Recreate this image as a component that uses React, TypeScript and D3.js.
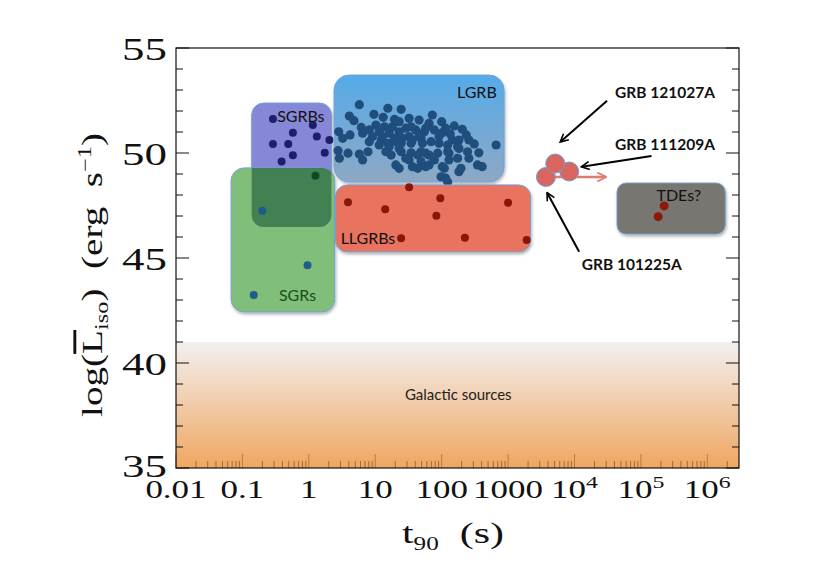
import React from 'react';
import * as d3 from 'd3';

// ---- data: [log10 t90 (s), log L_iso (erg/s)] ----
const lgrbPoints: [number, number][] = [
  [0.76,52.30],[0.61,51.76],[0.68,51.54],[0.98,51.84],[1.19,52.13],[1.39,52.08],[1.12,51.70],[1.29,51.60],
  [1.36,51.49],[1.51,51.65],[1.66,51.57],[0.45,51.01],[0.62,50.86],[0.79,51.22],[0.81,50.94],[0.91,51.10],
  [1.01,51.33],[1.06,51.01],[1.14,51.25],[1.21,50.94],[1.26,51.25],[1.36,51.01],[1.46,51.18],[1.51,50.78],
  [1.61,51.10],[1.69,50.70],[0.91,50.54],[1.09,50.62],[1.19,50.46],[1.31,50.54],[1.39,50.46],[1.54,50.46],
  [0.44,50.11],[0.46,49.75],[0.59,49.99],[0.76,49.95],[0.81,49.67],[0.89,50.06],[1.16,50.06],[1.24,49.90],
  [1.39,50.06],[1.54,50.01],[1.46,49.75],[1.64,49.90],[1.31,49.43],[1.36,49.27],[1.64,49.27],
  [1.86,51.81],[2.00,51.49],[1.81,51.41],[1.74,51.01],[1.89,51.10],[2.01,50.97],[2.16,50.62],[2.31,51.13],
  [2.37,50.86],[2.41,50.62],[2.49,50.43],[2.82,50.38],[1.71,50.46],[1.84,50.54],[1.96,50.46],[2.09,50.38],
  [2.24,50.30],[1.76,49.99],[1.89,49.67],[2.11,49.99],[2.24,49.75],[2.41,49.75],[2.56,50.01],[2.54,49.43],
  [2.61,49.35],[1.69,49.59],[1.76,49.35],[2.04,49.27],[2.29,49.27],[2.26,49.11],[1.99,48.87],[2.06,48.80],
  [1.54,51.25],[1.76,51.18],[2.06,51.18],[2.26,50.62],[1.56,50.62],[1.41,50.70],[1.11,50.78],[0.96,50.78],
  [0.51,50.70],[1.06,50.38],[1.21,50.30],[1.36,50.22],[1.69,50.06],[1.81,49.90],[1.94,49.99],[2.09,50.06],
  [2.26,50.22],[2.39,50.06],[2.11,49.67],[2.01,49.35],[1.81,49.43],[1.51,49.67],[1.56,49.35],
  [2.19,51.29],[1.29,50.70],[1.96,50.78],[2.13,50.90],[1.66,50.86],[2.09,48.62],
];
const sgrbPoints: [number, number][] = [
  [-0.54,51.62],[-0.24,50.97],[0.06,51.33],[0.12,50.78],[-0.54,50.43],[-0.31,50.43],
  [-0.24,49.89],[-0.41,49.59],[0.24,50.01],[0.31,50.62],[0.10,48.92],
];
const sgrPoints: [number, number][] = [[-0.70,47.25],[-0.02,44.65],[-0.83,43.24]];
const llgrbPoints: [number, number][] = [
  [0.59,47.65],[1.15,47.32],[1.51,48.37],[1.98,47.84],[1.92,47.01],[3.00,47.63],[1.39,45.94],[2.35,45.97],[3.28,45.86],
];
const tdePoints: [number, number][] = [[5.35,47.48],[5.26,46.97]];

const ulgrbNames = ['GRB 121027A', 'GRB 111209A', 'GRB 101225A'];
const ulgrbLogT90 = [3.71, 3.92, 3.57];
const ulgrbLogL = [49.50, 49.12, 48.86];
const ulgrbLimitLogT90 = 4.47; // lower-limit arrow end for GRB 101225A

// region boxes: [logT min, logT max], [logL min, logL max]
const lgrbBox = { t: [0.38, 2.94], l: [48.62, 53.71] };
const sgrbBox = { t: [-0.86, 0.34], l: [46.48, 52.38] };
const sgrBox = { t: [-1.17, 0.39], l: [42.43, 49.29] };
const llgrbBox = { t: [0.40, 3.34], l: [45.29, 48.48] };
const tdeBox = { t: [4.64, 6.27], l: [46.14, 48.57] };
const galacticMaxL = 41.0;

const xTickDecades = [-2, -1, 0, 1, 2, 3, 4, 5, 6];
const xTickLabels = ['0.01', '0.1', '1', '10', '100', '1000', '10|4', '10|5', '10|6'];
const yTicks = [35, 40, 45, 50, 55];

// annotation anchors in data coords
const annotations = [
  { text: 'GRB 121027A', lab: [4.61, 52.62], tail: [4.49, 52.49], head: [3.79, 50.54] },
  { text: 'GRB 111209A', lab: [4.61, 50.14], tail: [5.16, 49.86], head: [4.11, 49.35] },
  { text: 'GRB 101225A', lab: [4.11, 44.43], tail: [4.07, 45.30], head: [3.59, 48.10] },
];

const serif = "'Liberation Serif', 'Times New Roman', serif";
const sans = "Lato, 'Open Sans', sans-serif";

export default function App() {
  const x = d3.scaleLinear().domain([-2, 6.477]).range([176, 739]);
  const y = d3.scaleLinear().domain([35, 55]).range([468, 48]);
  const [x0, x1] = x.range();
  const [yb, yt] = y.range();

  const box = (b: { t: number[]; l: number[] }) => ({
    x: x(b.t[0]), y: y(b.l[1]), width: x(b.t[1]) - x(b.t[0]), height: y(b.l[0]) - y(b.l[1]),
  });

  const minorX: number[] = [];
  for (let n = -2; n <= 6; n++) {
    for (let k = 2; k <= 9; k++) {
      const v = n + Math.log10(k);
      if (v < 6.477) minorX.push(v);
    }
  }
  const yMinor = d3.range(36, 55).filter((v) => v % 5 !== 0);

  const inSgr = (p: [number, number]) =>
    p[0] >= sgrBox.t[0] && p[0] <= sgrBox.t[1] && p[1] >= sgrBox.l[0] && p[1] <= sgrBox.l[1];

  const lg = box(lgrbBox), sb = box(sgrbBox), sr = box(sgrBox), ll = box(llgrbBox), td = box(tdeBox);
  const stroke = '#72a0d6';

  return (
    <svg width={830} height={587} style={{ position: 'absolute', left: 0, top: 0, background: '#fff' }}>
      <defs>
        <linearGradient id="galGrad" x1="0" y1="0" x2="0" y2="1">
          <stop offset="0" stopColor="#f2f0f0" />
          <stop offset="1" stopColor="#f0a660" />
        </linearGradient>
        <linearGradient id="lgrbGrad" x1="0" y1="0" x2="0" y2="1">
          <stop offset="0" stopColor="#55abe9" />
          <stop offset="1" stopColor="#8ea8c4" />
        </linearGradient>
        <filter id="shadow" x="-10%" y="-10%" width="130%" height="130%">
          <feDropShadow dx="1" dy="2" stdDeviation="1.5" floodColor="#000" floodOpacity="0.3" />
        </filter>
        <clipPath id="sgrbClip">
          <rect x={sb.x} y={sb.y} width={sb.width} height={sb.height} rx={12} />
        </clipPath>
        <marker id="arrBlack" viewBox="0 0 10 10" refX="8.5" refY="5" markerWidth="5" markerHeight="5" orient="auto">
          <path d="M1,1 L9,5 L1,9" fill="none" stroke="#000" strokeWidth="1.6" />
        </marker>
        <marker id="arrRed" viewBox="0 0 10 10" refX="8.5" refY="5" markerWidth="4.5" markerHeight="4.5" orient="auto">
          <path d="M1,1 L9,5 L1,9" fill="none" stroke="#e07b73" strokeWidth="1.6" />
        </marker>
      </defs>

      {/* galactic sources band */}
      <rect x={x0} y={y(galacticMaxL)} width={x1 - x0} height={yb - y(galacticMaxL)} fill="url(#galGrad)" />
      <text x={x(2.25)} y={y(38.24)} textAnchor="middle" fontFamily={sans} fontSize={15} fill="#222">Galactic sources</text>

      {/* y ticks left & right */}
      {yTicks.map((v) => (
        <g key={'yt' + v}>
          <line x1={x0} x2={x0 + 13} y1={y(v)} y2={y(v)} stroke="#111" strokeWidth={1} />
          <line x1={x1} x2={x1 - 13} y1={y(v)} y2={y(v)} stroke="#111" strokeWidth={1} />
        </g>
      ))}
      {yMinor.map((v) => (
        <g key={'ym' + v}>
          <line x1={x0} x2={x0 + 7} y1={y(v)} y2={y(v)} stroke="#111" strokeWidth={1} />
          <line x1={x1} x2={x1 - 7} y1={y(v)} y2={y(v)} stroke="#111" strokeWidth={1} />
        </g>
      ))}
      {/* x ticks bottom */}
      {xTickDecades.map((v) => (
        <line key={'xt' + v} x1={x(v)} x2={x(v)} y1={yb} y2={yb - 14} stroke="#8a5a2a" strokeOpacity={0.55} strokeWidth={1} />
      ))}
      {minorX.map((v, i) => (
        <line key={'xm' + i} x1={x(v)} x2={x(v)} y1={yb} y2={yb - 7} stroke="#5a3a1a" strokeOpacity={0.55} strokeWidth={1} />
      ))}

      {/* frame */}
      <rect x={x0} y={yt} width={x1 - x0} height={yb - yt} fill="none" stroke="#111" strokeWidth={1.2} />

      {/* SGRB region */}
      <rect {...sb} rx={12} fill="#8787d7" stroke={stroke} strokeWidth={1} filter="url(#shadow)" />
      {sgrbPoints.filter((p) => !inSgr(p)).map((p, i) => (
        <circle key={'sb' + i} cx={x(p[0])} cy={y(p[1])} r={4} fill="#1e1e6a" />
      ))}
      {/* LGRB region */}
      <rect {...lg} rx={15} fill="url(#lgrbGrad)" stroke={stroke} strokeWidth={1} filter="url(#shadow)" />
      {lgrbPoints.map((p, i) => (
        <circle key={'lg' + i} cx={x(p[0])} cy={y(p[1])} r={4.6} fill="#1f4e7d" />
      ))}
      <text x={x(2.53)} y={y(52.62)} textAnchor="middle" fontFamily={sans} fontSize={16} fill="#111">LGRB</text>

      {/* SGR region */}
      <rect {...sr} rx={13} fill="#7fbf7a" stroke={stroke} strokeWidth={1} filter="url(#shadow)" />
      <g clipPath="url(#sgrbClip)">
        <rect {...sr} rx={13} fill="#1d5a38" fillOpacity={0.62} />
      </g>
      {sgrbPoints.filter(inSgr).map((p, i) => (
        <circle key={'sbg' + i} cx={x(p[0])} cy={y(p[1])} r={4} fill="#0e4a28" />
      ))}
      {sgrPoints.map((p, i) => (
        <circle key={'sr' + i} cx={x(p[0])} cy={y(p[1])} r={4} fill="#1d5d8a" />
      ))}
      <text x={x(-0.12)} y={y(51.48)} textAnchor="middle" fontFamily={sans} fontSize={16} fill="#111">SGRBs</text>
      <text x={x(-0.17)} y={y(42.95)} textAnchor="middle" fontFamily={sans} fontSize={16} fill="#1a4d1a">SGRs</text>

      {/* LLGRB region */}
      <rect {...ll} rx={12} fill="#e8735f" stroke={stroke} strokeWidth={1} filter="url(#shadow)" />
      {llgrbPoints.map((p, i) => (
        <circle key={'ll' + i} cx={x(p[0])} cy={y(p[1])} r={4} fill="#8a1608" />
      ))}
      <text x={x(0.89)} y={y(45.67)} textAnchor="middle" fontFamily={sans} fontSize={16} fill="#111">LLGRBs</text>

      {/* TDE region */}
      <rect {...td} rx={9} fill="#787670" stroke={stroke} strokeWidth={1} filter="url(#shadow)" />
      {tdePoints.map((p, i) => (
        <circle key={'td' + i} cx={x(p[0])} cy={y(p[1])} r={4.5} fill="#8a1a0a" />
      ))}
      <text x={x(5.57)} y={y(47.71)} textAnchor="middle" fontFamily={sans} fontSize={16} fill="#111">TDEs?</text>

      {/* ultra-long GRBs */}
      <line x1={x(ulgrbLogT90[2])} x2={x(ulgrbLimitLogT90)} y1={y(ulgrbLogL[2])} y2={y(ulgrbLogL[2])}
        stroke="#e07b73" strokeWidth={2.5} markerEnd="url(#arrRed)" />
      {[2, 1, 0].map((i) => (
        <circle key={'ul' + i} cx={x(ulgrbLogT90[i])} cy={y(ulgrbLogL[i])} r={9.5} fill="#d9655e" stroke={stroke} strokeWidth={1} />
      ))}
      {annotations.map((a, i) => (
        <g key={'an' + i}>
          <line x1={x(a.tail[0])} y1={y(a.tail[1])} x2={x(a.head[0])} y2={y(a.head[1])}
            stroke="#000" strokeWidth={2} markerEnd="url(#arrBlack)" />
          <text x={x(a.lab[0])} y={y(a.lab[1])} fontFamily={sans} fontWeight="bold" fontSize={15.5} fill="#111">{ulgrbNames[i]}</text>
        </g>
      ))}

      {/* x tick labels */}
      {xTickDecades.map((v, i) => {
        const [base, sup] = xTickLabels[i].split('|');
        return (
          <text key={'xl' + v} transform={`translate(${x(v)},498) scale(1.4,1)`} textAnchor="middle"
            fontFamily={serif} fontSize={25} fill="#111">
            {base}
            {sup ? <tspan fontSize={17} dy={-10}>{sup}</tspan> : null}
          </text>
        );
      })}
      {/* y tick labels */}
      {yTicks.map((v) => (
        <text key={'yl' + v} transform={`translate(167,${y(v) + (v === 35 ? 9 : 12)}) scale(1.45,1)`} textAnchor="end"
          fontFamily={serif} fontSize={31} fill="#111">{v}</text>
      ))}

      {/* axis titles */}
      <text transform="translate(453,543) scale(1.4,1)" textAnchor="middle" fontFamily={serif} fontSize={30} fill="#111"
        style={{ whiteSpace: 'pre' }}>
        t<tspan fontSize={18} dy={7}>90</tspan><tspan dy={-7}>{'  (s)'}</tspan>
      </text>
      <text transform="translate(102,275) rotate(-90) scale(1.35,1)" textAnchor="middle" fontFamily={serif} fontSize={29} fill="#111"
        style={{ whiteSpace: 'pre' }}>
        log(<tspan style={{ textDecoration: 'overline' }}>L</tspan>
        <tspan fontSize={18} dy={6}>iso</tspan>
        <tspan dy={-6}>{')  (erg  s'}</tspan>
        <tspan fontSize={18} dy={-11}>−1</tspan>
        <tspan dy={11}>)</tspan>
      </text>
    </svg>
  );
}
